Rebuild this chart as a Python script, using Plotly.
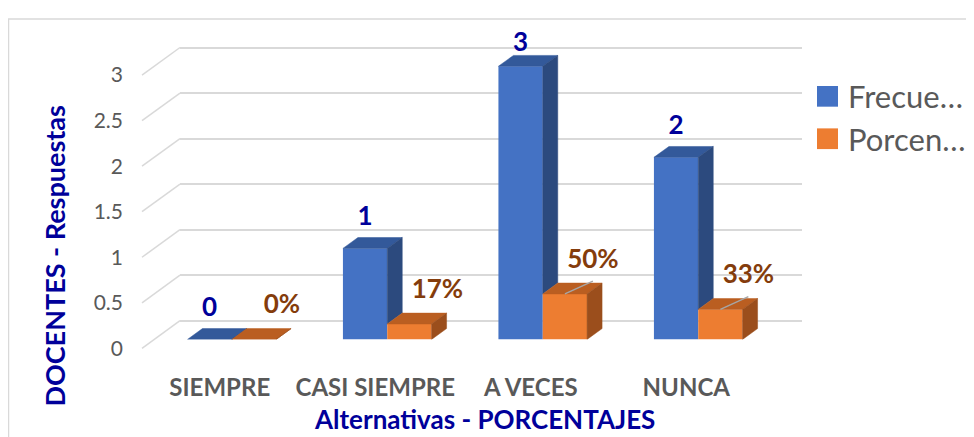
import plotly.graph_objects as go

# ---------------- data ----------------
categories = ["SIEMPRE", "CASI SIEMPRE", "A VECES", "NUNCA"]
frecuencia = [0, 1, 3, 2]
porcentaje = [0.0, 0.17, 0.50, 0.33]
freq_labels = ["0", "1", "3", "2"]
pct_labels = ["0%", "17%", "50%", "33%"]
y_ticks = [0, 0.5, 1, 1.5, 2, 2.5, 3]
y_ticktext = ["0", "0.5", "1", "1.5", "2", "2.5", "3"]
series_names = ["Frecue…", "Porcen…"]
y_title = "DOCENTES - Respuestas"
x_title = "Alternativas - PORCENTAJES"

# ---------------- geometry / style ----------------
W, H = 974, 437
PAGE_OFF = 8  # default page body margin

def fx(p):
    return (p - PAGE_OFF) / W

def fy(p):
    return 1 - (p - PAGE_OFF) / H

SCALE = 92.33            # px per unit on value axis
FRONT_Y0, BACK_Y0, BAR_Y0 = 349, 321, 340
FRONT_X0, FRONT_X1 = 142, 764
BACK_X0, BACK_X1 = 180, 802
BAR_X0, BAR_X1 = 154, 776
CAT_PX = (FRONT_X1 - FRONT_X0) / 4.0
BAR_YMAX = 3.4

BW = 0.285               # bar width (category units)
DX = 15 / CAT_PX         # depth offset x
DY = 11 / SCALE          # depth offset y

BLUE, BLUE_TOP, BLUE_SIDE = "#4472C4", "#33599A", "#2C4A7E"
ORNG, ORNG_TOP, ORNG_SIDE = "#ED7D31", "#BA5E21", "#9B4E1C"
LBL_BLUE, LBL_BROWN = "#00009A", "#843C0C"
GRID = "#D9D9D9"
GRAY = "#595959"
FONT = "Lato"

xs = list(range(len(categories)))
fig = go.Figure()

# back wall (gridlines) subplot
fig.add_trace(go.Scatter(x=[0], y=[0], mode="markers", marker=dict(opacity=0),
                         hoverinfo="skip", showlegend=False, xaxis="x", yaxis="y"))
# front plane (tick labels) subplot
fig.add_trace(go.Scatter(x=[0], y=[0], mode="markers", marker=dict(opacity=0),
                         hoverinfo="skip", showlegend=False, xaxis="x2", yaxis="y2"))

# front faces of bars
fig.add_trace(go.Bar(x=xs, y=frecuencia, width=BW, offset=-BW, marker=dict(color=BLUE, line=dict(width=0)),
                     name=series_names[0], showlegend=False, xaxis="x3", yaxis="y3"))
fig.add_trace(go.Bar(x=xs, y=porcentaje, width=BW, offset=0, marker=dict(color=ORNG, line=dict(width=0)),
                     name=series_names[1], showlegend=False, xaxis="x3", yaxis="y3"))


def poly_trace(polys, color):
    px, py = [], []
    for pts in polys:
        for (a, b) in pts:
            px.append(a)
            py.append(b)
        px.append(pts[0][0]); py.append(pts[0][1])
        px.append(None); py.append(None)
    return go.Scatter(x=px, y=py, mode="lines", fill="toself", fillcolor=color,
                      line=dict(width=0.5, color=color), hoverinfo="skip",
                      showlegend=False, xaxis="x3", yaxis="y3")


blue_top, blue_side, org_top, org_side = [], [], [], []
for i, v, o in zip(xs, frecuencia, porcentaje):
    blue_top.append([(i - BW, v), (i - BW + DX, v + DY), (i + DX, v + DY), (i, v)])
    blue_side.append([(i, o), (i + DX, o + DY), (i + DX, v + DY), (i, v)])
    org_top.append([(i, o), (i + DX, o + DY), (i + BW + DX, o + DY), (i + BW, o)])
    org_side.append([(i + BW, 0), (i + BW + DX, DY), (i + BW + DX, o + DY), (i + BW, o)])

fig.add_trace(poly_trace(blue_top, BLUE_TOP))
fig.add_trace(poly_trace(blue_side, BLUE_SIDE))
fig.add_trace(poly_trace(org_top, ORNG_TOP))
fig.add_trace(poly_trace(org_side, ORNG_SIDE))

# leader lines for moved percentage labels
LX, LY = 0.18, 0.36
leader_idx = [2, 3]
lx, ly = [], []
for i in leader_idx:
    o = porcentaje[i]
    lx += [i + BW / 2, i + BW / 2 + LX, None]
    ly += [o, o + 0.14, None]
fig.add_trace(go.Scatter(x=lx, y=ly, mode="lines", line=dict(color="#A6A6A6", width=1.5),
                         hoverinfo="skip", showlegend=False, xaxis="x3", yaxis="y3"))

# data labels
fig.add_trace(go.Scatter(
    x=[i - BW / 2 for i in xs], y=[min(v + 0.33, 3.24) for v in frecuencia],
    mode="text", text=freq_labels, cliponaxis=False,
    textfont=dict(family=FONT, size=26, color=LBL_BLUE, weight="bold"),
    hoverinfo="skip", showlegend=False, xaxis="x3", yaxis="y3"))
fig.add_trace(go.Scatter(
    x=[i + BW / 2 + LX for i in xs], y=[o + LY for o in porcentaje],
    mode="text", text=pct_labels, cliponaxis=False,
    textfont=dict(family=FONT, size=26, color=LBL_BROWN, weight="bold"),
    hoverinfo="skip", showlegend=False, xaxis="x3", yaxis="y3"))

# side wall diagonals + chart border
shapes = [dict(type="rect", xref="paper", yref="paper", x0=fx(8.5), x1=fx(1010), y0=fy(15), y1=fy(470),
               line=dict(color=GRID, width=1.5), layer="below")]
for t in y_ticks:
    shapes.append(dict(type="line", xref="paper", yref="paper",
                       x0=fx(FRONT_X0), y0=fy(FRONT_Y0 - t * SCALE),
                       x1=fx(BACK_X0), y1=fy(BACK_Y0 - t * SCALE),
                       line=dict(color=GRID, width=1.5), layer="below"))
# manual legend swatches
shapes.append(dict(type="rect", xref="paper", yref="paper", x0=fx(817), x1=fx(838), y0=fy(104), y1=fy(83),
                   fillcolor=BLUE, line=dict(width=0)))
shapes.append(dict(type="rect", xref="paper", yref="paper", x0=fx(817), x1=fx(838), y0=fy(147), y1=fy(126),
                   fillcolor=ORNG, line=dict(width=0)))

annotations = [
    dict(text=series_names[0], x=fx(846), y=fy(93), xref="paper", yref="paper", xanchor="left",
         yanchor="middle", showarrow=False, font=dict(family=FONT, size=31, color=GRAY)),
    dict(text=series_names[1], x=fx(846), y=fy(137), xref="paper", yref="paper", xanchor="left",
         yanchor="middle", showarrow=False, font=dict(family=FONT, size=31, color=GRAY)),
    dict(text=y_title, x=fx(55), y=fy(256), xref="paper", yref="paper", textangle=-90,
         xanchor="center", yanchor="middle", showarrow=False,
         font=dict(family=FONT, size=27, color=LBL_BLUE, weight="bold")),
    dict(text=x_title, x=fx(484), y=fy(421), xref="paper", yref="paper",
         xanchor="center", yanchor="middle", showarrow=False,
         font=dict(family=FONT, size=26, color=LBL_BLUE, weight="bold")),
]

fig.update_layout(
    width=W, height=H, margin=dict(l=0, r=0, t=0, b=0),
    paper_bgcolor="white", plot_bgcolor="rgba(0,0,0,0)",
    showlegend=False, barmode="overlay",
    shapes=shapes, annotations=annotations,
    xaxis=dict(domain=[fx(BACK_X0), fx(BACK_X1)], range=[0, 1], visible=False, anchor="y"),
    yaxis=dict(domain=[fy(BACK_Y0 + 0.1 * SCALE), fy(BACK_Y0 - 3.1 * SCALE)], range=[-0.1, 3.1],
               tickvals=y_ticks, showticklabels=False, showgrid=True, gridcolor=GRID, gridwidth=1.5,
               zeroline=False, showline=False, ticks="", anchor="x"),
    xaxis2=dict(domain=[fx(FRONT_X0), fx(FRONT_X1)], range=[-0.5, 3.5], anchor="y2",
                tickvals=xs, ticktext=categories, showgrid=False, zeroline=False, showline=False,
                ticks="", ticklabelstandoff=14,
                tickfont=dict(family=FONT, size=24, color=GRAY, weight="bold")),
    yaxis2=dict(domain=[fy(FRONT_Y0 + 0.1 * SCALE), fy(FRONT_Y0 - 3.1 * SCALE)], range=[-0.1, 3.1],
                anchor="x2", tickvals=y_ticks, ticktext=y_ticktext, showgrid=False, zeroline=False,
                showline=False, ticks="", ticklabelstandoff=18,
                tickfont=dict(family=FONT, size=21, color=GRAY)),
    xaxis3=dict(domain=[fx(BAR_X0), fx(BAR_X1)], range=[-0.5, 3.5], visible=False, anchor="y3"),
    yaxis3=dict(domain=[fy(BAR_Y0), fy(BAR_Y0 - BAR_YMAX * SCALE)], range=[0, BAR_YMAX],
                visible=False, anchor="x3"),
)

fig.write_html("out.html")
